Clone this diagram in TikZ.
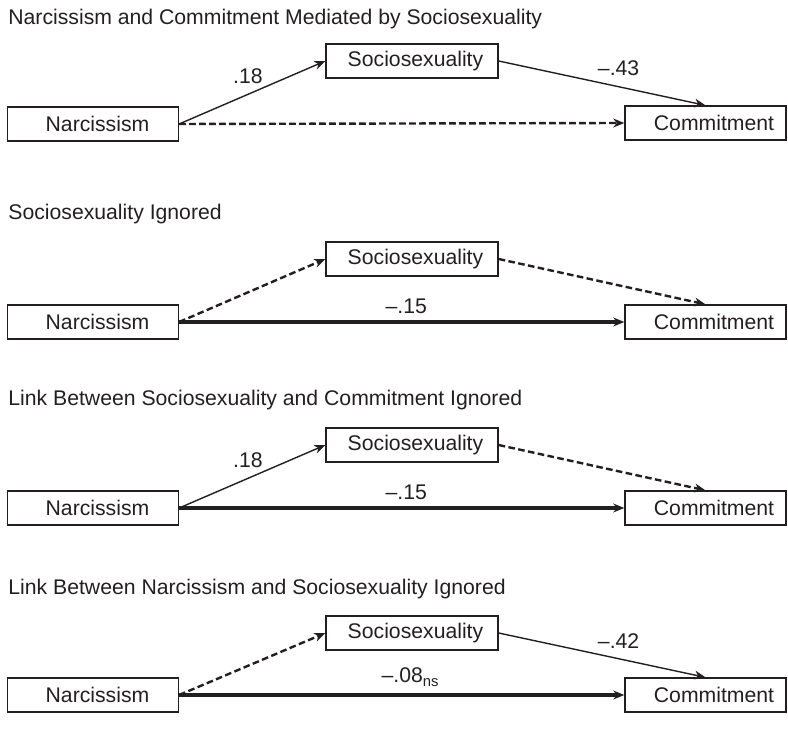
\documentclass[tikz,border=0pt]{standalone}
\usepackage{fontspec}
\setmainfont{Liberation Sans}
\usetikzlibrary{arrows.meta}
\definecolor{ink}{RGB}{35,31,32}
\begin{document}
\begin{tikzpicture}[x=0.5pt,y=-0.5pt,
  font=\fontsize{10.6}{12}\selectfont, color=ink,
  box/.style={draw=ink, line width=0.65pt, inner sep=0pt, minimum height=17pt, text=ink},
  nbox/.style={box, minimum width=85.5pt},
  sbox/.style={box, minimum width=86pt},
  cbox/.style={box, minimum width=80.5pt},
  paneltitle/.style={anchor=base west, inner sep=0pt, text=ink},
  arrowtip/.style={-{Stealth[length=5.5pt,width=4.4pt,inset=1.7pt]}},
  thinarrow/.style={arrowtip, draw=ink, line width=0.7pt},
  thickarrow/.style={arrowtip, draw=ink, line width=1.6pt},
  dashedarrow/.style={arrowtip, draw=ink, line width=1.2pt, dash pattern=on 3.3pt off 1.7pt},
  edgelabel/.style={anchor=south, inner sep=0pt, text=ink}
]
\useasboundingbox (0,0) rectangle (788,737);

% ---------- Panel 1 ----------
\node[paneltitle] (t1) at (8,25) {Narcissism and Commitment Mediated by Sociosexuality};
\node[sbox] (s1) at (412,61) {\hspace*{3.5pt}Sociosexuality};
\node[nbox] (n1) at (93,124) {\hspace*{4.5pt}Narcissism};
\node[cbox] (c1) at (705.5,123) {\hspace*{8.5pt}Commitment};
\draw[thinarrow] (n1.east) -- node[edgelabel, pos=0.47, yshift=5pt] {.18} (s1.west);
\draw[thinarrow] (s1.east) -- node[edgelabel, pos=0.58, yshift=5pt] {–.43} (c1.north);
\draw[dashedarrow] (n1.east) -- (c1.west);

% ---------- Panel 2 ----------
\node[paneltitle] (t2) at (8,220) {Sociosexuality Ignored};
\node[sbox] (s2) at (412,259) {\hspace*{3.5pt}Sociosexuality};
\node[nbox] (n2) at (93,322) {\hspace*{4.5pt}Narcissism};
\node[cbox] (c2) at (705.5,322) {\hspace*{8.5pt}Commitment};
\draw[dashedarrow] (n2.east) -- (s2.west);
\draw[dashedarrow] (s2.east) -- (c2.north);
\draw[thickarrow] (n2.east) -- node[edgelabel, pos=0.51, yshift=3.5pt] {–.15} (c2.west);

% ---------- Panel 3 ----------
\node[paneltitle] (t3) at (8,406) {Link Between Sociosexuality and Commitment Ignored};
\node[sbox] (s3) at (412,445) {\hspace*{3.5pt}Sociosexuality};
\node[nbox] (n3) at (93,508) {\hspace*{4.5pt}Narcissism};
\node[cbox] (c3) at (705.5,508) {\hspace*{8.5pt}Commitment};
\draw[thinarrow] (n3.east) -- node[edgelabel, pos=0.47, yshift=5pt] {.18} (s3.west);
\draw[dashedarrow] (s3.east) -- (c3.north);
\draw[thickarrow] (n3.east) -- node[edgelabel, pos=0.51, yshift=3.5pt] {–.15} (c3.west);

% ---------- Panel 4 ----------
\node[paneltitle] (t4) at (8,595) {Link Between Narcissism and Sociosexuality Ignored};
\node[sbox] (s4) at (412,633) {\hspace*{3.5pt}Sociosexuality};
\node[nbox] (n4) at (93,695) {\hspace*{4.5pt}Narcissism};
\node[cbox] (c4) at (705.5,695) {\hspace*{8.5pt}Commitment};
\draw[dashedarrow] (n4.east) -- (s4.west);
\draw[thinarrow] (s4.east) -- node[edgelabel, pos=0.58, yshift=5pt] {–.42} (c4.north);
\draw[thickarrow] (n4.east) -- node[edgelabel, pos=0.52, yshift=3.5pt] {–.08\textsubscript{ns}} (c4.west);
\end{tikzpicture}
\end{document}
